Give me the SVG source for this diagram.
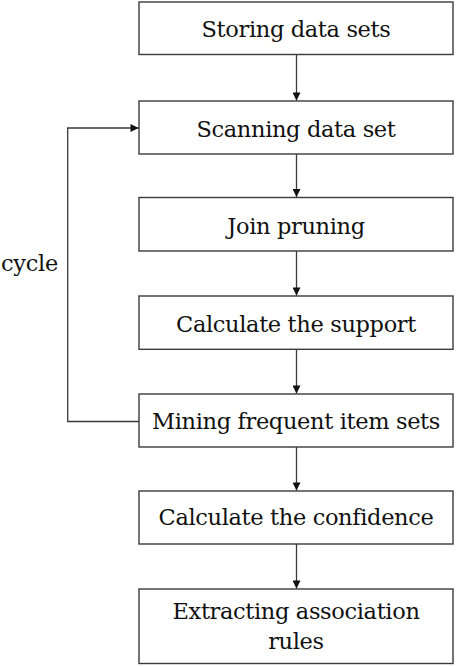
<svg xmlns="http://www.w3.org/2000/svg" width="457" height="666" viewBox="0 0 457 666">
<style>
.box{fill:#fff;stroke:#3a3a3a;stroke-width:1.4}
.lbl{font-family:"DejaVu Serif","Liberation Serif",serif;font-size:22.5px;letter-spacing:-0.35px;fill:#111;text-anchor:middle}
.cyc{font-family:"DejaVu Serif","Liberation Serif",serif;font-size:22.5px;letter-spacing:-0.3px;fill:#111}
.con{fill:none;stroke:#3a3a3a;stroke-width:1.3}
</style>
<defs>
<marker id="ah" viewBox="0 0 10 10" refX="10" refY="5" markerWidth="9" markerHeight="8" markerUnits="userSpaceOnUse" orient="auto">
<path d="M0,0 L10,5 L0,10 z" fill="#111"/>
</marker>
</defs>
<rect width="457" height="666" fill="#fff"/>
<g id="n1"><rect class="box" x="139" y="2" width="314" height="52.5"/><text class="lbl" x="296" y="37">Storing data sets</text></g>
<g id="n2"><rect class="box" x="139" y="101" width="314" height="53"/><text class="lbl" x="296" y="136.5">Scanning data set</text></g>
<g id="n3"><rect class="box" x="139" y="197.5" width="314" height="53.5"/><text class="lbl" x="296" y="233.5">Join pruning</text></g>
<g id="n4"><rect class="box" x="139" y="296" width="314" height="53.3"/><text class="lbl" x="296" y="331.5">Calculate the support</text></g>
<g id="n5"><rect class="box" x="139" y="394" width="314" height="53"/><text class="lbl" x="296" y="429">Mining frequent item sets</text></g>
<g id="n6"><rect class="box" x="139" y="491" width="314" height="53"/><text class="lbl" x="296" y="525">Calculate the confidence</text></g>
<g id="n7"><rect class="box" x="139" y="589" width="314" height="74.5"/><text class="lbl" x="296" y="618.5">Extracting association</text><text class="lbl" x="296" y="648.5">rules</text></g>
<g id="connectors">
<line class="con" x1="296.5" y1="54.5" x2="296.5" y2="100.5" marker-end="url(#ah)"/>
<line class="con" x1="296.5" y1="154" x2="296.5" y2="197" marker-end="url(#ah)"/>
<line class="con" x1="296.5" y1="251" x2="296.5" y2="295.5" marker-end="url(#ah)"/>
<line class="con" x1="296.5" y1="349.3" x2="296.5" y2="393.5" marker-end="url(#ah)"/>
<line class="con" x1="296.5" y1="447" x2="296.5" y2="490.5" marker-end="url(#ah)"/>
<line class="con" x1="296.5" y1="544" x2="296.5" y2="588.5" marker-end="url(#ah)"/>
<polyline class="con" points="139,421.5 67.7,421.5 67.7,128 138.5,128" marker-end="url(#ah)"/>
<text class="cyc" x="1" y="271">cycle</text>
</g>
</svg>
